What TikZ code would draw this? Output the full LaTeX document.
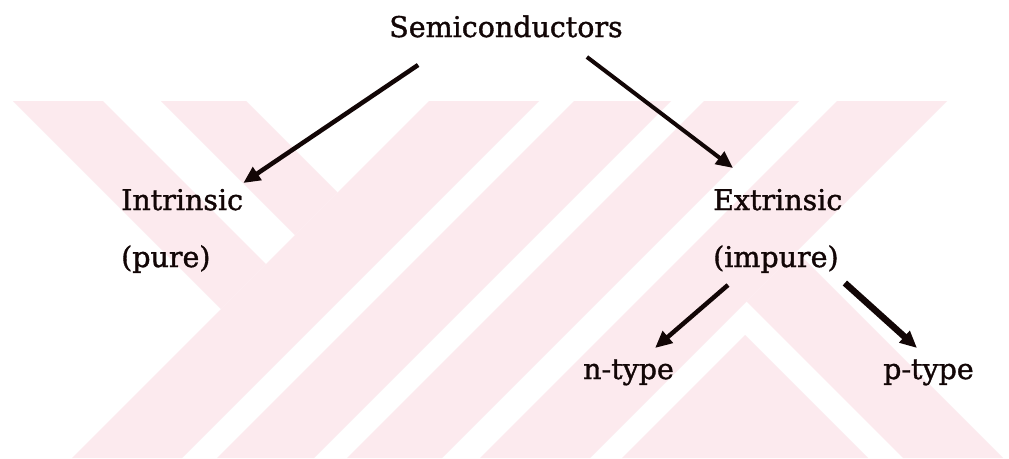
\documentclass[tikz,border=0pt]{standalone}
\usepackage{fontspec}
\setmainfont{DejaVu Serif}
\newfontfamily\lblfont{DejaVu Serif}[FakeBold=1.3]
\usetikzlibrary{arrows.meta}
\definecolor{wm}{RGB}{252,234,238}
\definecolor{ink}{RGB}{18,6,6}
\begin{document}
\begin{tikzpicture}[x=1pt,y=-1pt,
  lbl/.style={inner sep=0pt, font=\lblfont\fontsize{28.5}{32}\selectfont, text=ink},
  arr/.style={draw=ink, line width=4.5pt, -{Triangle[length=17pt,width=15pt]}},
  wmark/.style={fill=wm, draw=none}]
\fill[white] (0,0) rectangle (1009,458);
\useasboundingbox (0,0) rectangle (1009,458);
% watermark
\fill[wmark] (13,101) -- (103,101) -- (266,264) -- (221,309) -- cycle;
\fill[wmark] (161,101) -- (246,101) -- (337.5,192.5) -- (295,235) -- cycle;
\fill[wmark] (429,101) -- (539,101) -- (182,458) -- (72,458) -- cycle;
\fill[wmark] (574,101) -- (671,101) -- (314,458) -- (217,458) -- cycle;
\fill[wmark] (704,101) -- (799,101) -- (442,458) -- (347,458) -- cycle;
\fill[wmark] (837,101) -- (947,101) -- (590,458) -- (480,458) -- cycle;
\fill[wmark] (746.5,301.5) -- (796.5,251.5) -- (1003,458) -- (903,458) -- cycle;
\fill[wmark] (745,335) -- (868,458) -- (622,458) -- cycle;
% labels
\node[lbl, anchor=base] (semi) at (506,37) {Semiconductors};
\node[lbl, anchor=base west] (intr) at (121,210) {Intrinsic};
\node[lbl, anchor=base west] (pure) at (121,267) {(pure)};
\node[lbl, anchor=base west] (extr) at (713,210) {Extrinsic};
\node[lbl, anchor=base west] (impure) at (713,267) {(impure)};
\node[lbl, anchor=base west] (ntype) at (583,379) {n-type};
\node[lbl, anchor=base west] (ptype) at (883,379) {p-type};
% connectors
\draw[arr] ([shift={(29,28)}]semi.base west) -- ([shift={(0,-27)}]intr.base east);
\draw[arr, line width=4pt] ([shift={(-36,20)}]semi.base east) -- ([shift={(20,-42)}]extr.base west);
\draw[arr] ([shift={(15,18)}]impure.base west) -- ([shift={(-19,-31)}]ntype.base east);
\draw[arr, line width=6.5pt] ([shift={(6,16)}]impure.base east) -- ([shift={(34,-31)}]ptype.base west);
\end{tikzpicture}
\end{document}
